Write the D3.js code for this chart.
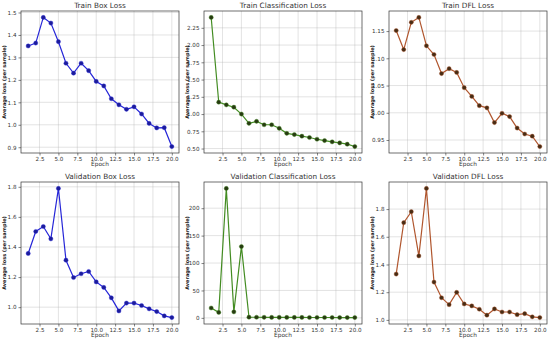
<!DOCTYPE html>
<html>
<head>
<meta charset="utf-8">
<script src="https://cdn.jsdelivr.net/npm/d3@7"></script>
<style>
  body { margin: 0; background: #fff; }
  svg { font-family: "DejaVu Sans", sans-serif; }
</style>
</head>
<body>
<div id="chart-area"></div>
<script>
// data
const epochs = d3.range(1, 21);
const trainBox = [1.351, 1.364, 1.478, 1.453, 1.370, 1.274, 1.230, 1.274, 1.241, 1.193,
                  1.173, 1.116, 1.089, 1.069, 1.080, 1.048, 1.006, 0.986, 0.987, 0.903];
const trainCls = [2.40, 1.172, 1.133, 1.099, 1.000, 0.865, 0.894, 0.845, 0.845, 0.793,
                  0.720, 0.703, 0.679, 0.660, 0.635, 0.616, 0.597, 0.582, 0.563, 0.529];
const trainDfl = [1.151, 1.116, 1.166, 1.175, 1.123, 1.107, 1.072, 1.081, 1.074, 1.046,
                  1.030, 1.013, 1.009, 0.982, 0.999, 0.993, 0.972, 0.961, 0.957, 0.938];
const valBox = [1.357, 1.503, 1.536, 1.454, 1.789, 1.312, 1.197, 1.222, 1.237, 1.168,
                1.131, 1.062, 0.975, 1.027, 1.027, 1.011, 0.989, 0.971, 0.942, 0.931];
const valCls = [18, 10, 236, 11, 130, 1.2, 1.1, 1.0, 0.9, 0.9,
                0.8, 0.8, 0.8, 0.7, 0.7, 0.7, 0.7, 0.6, 0.6, 0.6];
const valDfl = [1.331, 1.702, 1.781, 1.462, 1.949, 1.273, 1.160, 1.110, 1.199, 1.115,
                1.101, 1.077, 1.034, 1.079, 1.057, 1.057, 1.038, 1.045, 1.022, 1.017];

const xTicks = [2.5, 5.0, 7.5, 10.0, 12.5, 15.0, 17.5, 20.0];

const panels = [
  {title: "Train Box Loss", values: trainBox, ticks: [0.9, 1.0, 1.1, 1.2, 1.3, 1.4, 1.5], fmt: ".1f", line: "#2626d8", dot: "#1c1c9a"},
  {title: "Train Classification Loss", values: trainCls, ticks: [0.5, 0.75, 1.0, 1.25, 1.5, 1.75, 2.0, 2.25], fmt: ".2f", line: "#438c22", dot: "#273a12"},
  {title: "Train DFL Loss", values: trainDfl, ticks: [0.95, 1.0, 1.05, 1.1, 1.15], fmt: ".2f", line: "#b0562e", dot: "#472c14"},
  {title: "Validation Box Loss", values: valBox, ticks: [1.0, 1.2, 1.4, 1.6, 1.8], fmt: ".1f", line: "#2626d8", dot: "#1c1c9a"},
  {title: "Validation Classification Loss", values: valCls, ticks: [0, 50, 100, 150, 200], fmt: "d", line: "#438c22", dot: "#273a12"},
  {title: "Validation DFL Loss", values: valDfl, ticks: [1.0, 1.2, 1.4, 1.6, 1.8], fmt: ".1f", line: "#b0562e", dot: "#472c14"}
];

const svgWidth = 550, svgHeight = 342;
const colLeft = [21, 204, 389];
const rowTop = [11, 182];
const pw = 158, ph = 142;

const svg = d3.select("#chart-area").append("svg")
    .attr("width", svgWidth)
    .attr("height", svgHeight);

panels.forEach(function(p, i) {
  const left = colLeft[i % 3], top = rowTop[Math.floor(i / 3)];
  const g = svg.append("g").attr("transform", "translate(" + left + "," + top + ")");

  // matplotlib-like 5% margins
  const ext = d3.extent(p.values);
  const pad = (ext[1] - ext[0]) * 0.05;
  const x = d3.scaleLinear().domain([1 - 0.95, 20 + 0.95]).range([0, pw]);
  const y = d3.scaleLinear().domain([ext[0] - pad, ext[1] + pad]).range([ph, 0]);

  // grid
  g.selectAll(".gx").data(xTicks).enter().append("line")
    .attr("x1", d => x(d)).attr("x2", d => x(d))
    .attr("y1", 0).attr("y2", ph)
    .attr("stroke", "#b0b0b0").attr("stroke-opacity", 0.6).attr("stroke-width", 0.6);
  g.selectAll(".gy").data(p.ticks).enter().append("line")
    .attr("x1", 0).attr("x2", pw)
    .attr("y1", d => y(d)).attr("y2", d => y(d))
    .attr("stroke", "#b0b0b0").attr("stroke-opacity", 0.6).attr("stroke-width", 0.6);

  // axes
  const xAxis = g.append("g").attr("transform", "translate(0," + ph + ")")
    .call(d3.axisBottom(x).tickValues(xTicks).tickFormat(d3.format(".1f")).tickSizeOuter(0).tickSize(2.5).tickPadding(2));
  const yAxis = g.append("g")
    .call(d3.axisLeft(y).tickValues(p.ticks).tickFormat(d3.format(p.fmt)).tickSizeOuter(0).tickSize(2.5).tickPadding(2));
  [xAxis, yAxis].forEach(function(a) {
    a.select(".domain").remove();
    a.selectAll("line").attr("stroke", "#333").attr("stroke-width", 0.6);
    a.selectAll("text").attr("font-size", "5.6px").attr("fill", "#333").attr("font-family", "DejaVu Sans, sans-serif");
  });

  g.append("rect")
    .attr("width", pw).attr("height", ph)
    .attr("fill", "none").attr("stroke", "#333").attr("stroke-width", 0.7);

  // line
  const line = d3.line().x((d, j) => x(epochs[j])).y(d => y(d));
  g.append("path").datum(p.values)
    .attr("d", line)
    .attr("fill", "none")
    .attr("stroke", p.line)
    .attr("stroke-width", 1.2);

  g.selectAll(".dot").data(p.values).enter().append("circle")
    .attr("cx", (d, j) => x(epochs[j]))
    .attr("cy", d => y(d))
    .attr("r", 2.1)
    .attr("fill", p.dot)
    .attr("stroke", p.line)
    .attr("stroke-width", 0.4);

  // title and labels
  g.append("text")
    .attr("x", pw / 2).attr("y", -3)
    .attr("text-anchor", "middle")
    .attr("font-size", "7.3px")
    .attr("fill", "#333")
    .text(p.title);

  g.append("text")
    .attr("x", pw / 2).attr("y", ph + 13)
    .attr("text-anchor", "middle")
    .attr("font-size", "5.8px")
    .attr("fill", "#333")
    .text("Epoch");

  g.append("text")
    .attr("transform", "rotate(-90)")
    .attr("x", -ph / 2).attr("y", -15.5)
    .attr("text-anchor", "middle")
    .attr("font-size", "5px")
    .attr("font-weight", "bold")
    .attr("fill", "#222")
    .text("Average loss (per sample)");
});
</script>
</body>
</html>
